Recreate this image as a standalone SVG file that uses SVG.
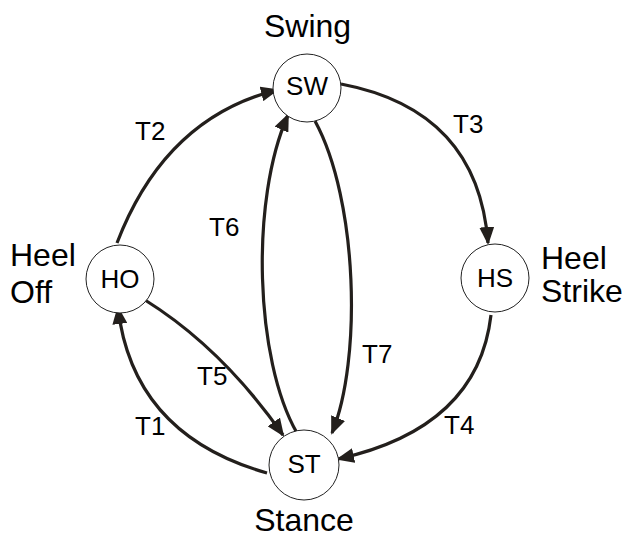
<svg xmlns="http://www.w3.org/2000/svg" width="628" height="541" viewBox="0 0 628 541">
<style>
.node{fill:#fff;stroke:#222;stroke-width:1}
.nl{font-family:"Liberation Sans",Arial,sans-serif;font-size:26px;fill:#000;text-anchor:middle}
.big{font-family:"Liberation Sans",Arial,sans-serif;font-size:32px;fill:#000}
.el{font-family:"Liberation Sans",Arial,sans-serif;font-size:26px;fill:#000}
.edge{fill:none;stroke:#231f1c;stroke-width:3.2;marker-end:url(#ah)}
</style>
<defs>
<marker id="ah" viewBox="0 0 18 15" refX="16" refY="7.5" markerWidth="18" markerHeight="15" markerUnits="userSpaceOnUse" orient="auto">
<path d="M0,0 L18,7.5 L0,15 z" fill="#231f1c"/>
</marker>
</defs>
<rect width="628" height="541" fill="#fff"/>
<g id="connectors">
<path id="T2" class="edge" d="M117,243 Q165,118 277,90"/>
<path id="T3" class="edge" d="M341,84 Q478,110 488,243"/>
<path id="T6" class="edge" d="M297,433 C255,360 250,200 288,115"/>
<path id="T7" class="edge" d="M315,121 C358,200 362,360 332,433"/>
<path id="T5" class="edge" d="M145,300 Q222,348 283,435"/>
<path id="T1" class="edge" d="M267,473 Q133,435 118,308"/>
<path id="T4" class="edge" d="M491,315 Q478,428 338,459"/>
</g>
<g id="edge-labels">
<text class="el" x="135" y="140">T2</text>
<text class="el" x="453" y="133">T3</text>
<text class="el" x="209" y="236">T6</text>
<text class="el" x="362" y="363">T7</text>
<text class="el" x="197" y="385">T5</text>
<text class="el" x="135" y="435">T1</text>
<text class="el" x="444" y="434">T4</text>
</g>
<g id="node-SW">
<circle class="node" cx="307" cy="88" r="34"/>
<text class="nl" x="307" y="95">SW</text>
<text class="big" x="307.5" y="37" text-anchor="middle">Swing</text>
</g>
<g id="node-HO">
<circle class="node" cx="120" cy="279" r="34"/>
<text class="nl" x="120" y="288">HO</text>
<text class="big" x="10" y="266">Heel</text>
<text class="big" x="10" y="303">Off</text>
</g>
<g id="node-HS">
<circle class="node" cx="495" cy="278" r="34"/>
<text class="nl" x="495" y="287">HS</text>
<text class="big" x="541" y="269">Heel</text>
<text class="big" x="541" y="302">Strike</text>
</g>
<g id="node-ST">
<circle class="node" cx="304" cy="465" r="35"/>
<text class="nl" x="304" y="473">ST</text>
<text class="big" x="304" y="531" text-anchor="middle">Stance</text>
</g>
</svg>
